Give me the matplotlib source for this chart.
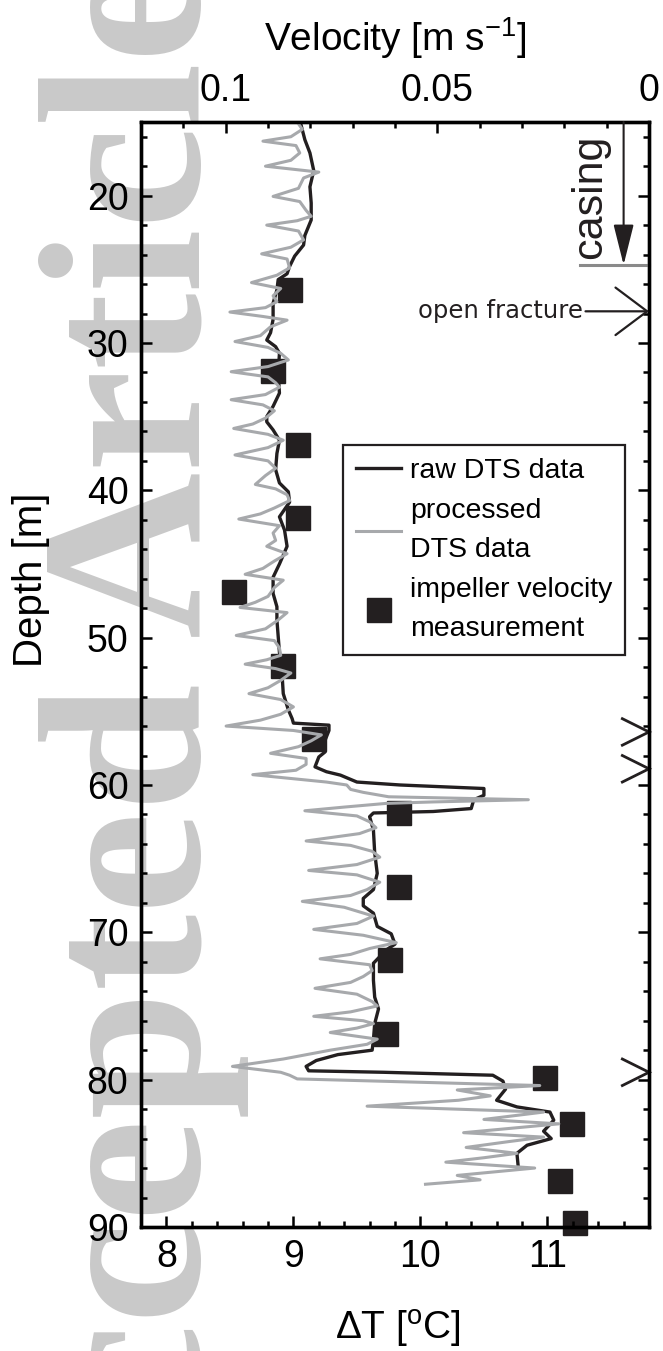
import matplotlib
matplotlib.use("Agg")
import matplotlib.pyplot as plt
from matplotlib.ticker import MultipleLocator

plt.rcParams['font.family'] = ['Liberation Sans', 'DejaVu Sans']
plt.rcParams['mathtext.fontset'] = 'custom'
plt.rcParams['mathtext.rm'] = 'Liberation Sans'
plt.rcParams['mathtext.it'] = 'Liberation Sans:italic'

# raw DTS data (depth [m], dT [C])
raw_depth = [15.0, 15.2, 16.2, 17.1, 18.3, 19.4, 20.5, 21.65, 22.7, 23.35, 24.1, 24.8,
             25.3, 25.7, 26.4, 27.3, 28.4, 29.3, 29.8, 30.25, 30.7, 32.06, 33.4, 34.3,
             35.0, 35.35, 35.9, 36.6, 37.5, 38.6, 39.5, 40.1, 40.8, 41.8, 42.7, 43.8,
             45.0, 45.9, 47.0, 47.9, 48.8, 49.9, 51.0, 52.4, 53.8, 54.9, 55.5, 55.8,
             55.94, 56.3, 56.95, 57.75, 58.1, 58.77, 59.1, 59.33, 59.8, 60.0, 60.24, 60.7,
             61.0, 61.6, 61.8, 61.9, 62.15, 63.06, 64.6, 66.0, 67.1, 67.7, 68.2, 68.7,
             69.6, 70.1, 70.8, 71.2, 72.1, 73.25, 74.4, 75.2, 76.2, 77.3, 78.0, 78.3,
             78.7, 79.1, 79.4, 79.5, 79.7, 80.1, 80.65, 81.4, 81.85, 82.2, 82.75, 83.5,
             84.0, 84.45, 85.0, 85.9]
raw_dT = [9.05, 9.06, 9.09, 9.13, 9.16, 9.13, 9.14, 9.14, 9.09, 9.08, 9.01, 8.97,
          8.95, 8.88, 8.87, 8.84, 8.84, 8.82, 8.79, 8.86, 8.89, 8.88, 8.89, 8.84,
          8.79, 8.79, 8.84, 8.89, 8.87, 8.86, 8.89, 8.96, 8.97, 8.89, 8.93, 8.95,
          8.89, 8.84, 8.84, 8.87, 8.87, 8.88, 8.89, 8.91, 8.92, 8.96, 8.99, 9.0,
          9.28, 9.28, 9.25, 9.25, 9.2, 9.17, 9.26, 9.37, 9.5, 9.84, 10.5, 10.5,
          10.42, 10.4, 10.1, 9.63, 9.6, 9.63, 9.64, 9.66, 9.63, 9.55, 9.55, 9.63,
          9.66, 9.77, 9.8, 9.73, 9.63, 9.63, 9.64, 9.67, 9.64, 9.63, 9.62, 9.35,
          9.18, 9.1, 9.12, 9.71, 10.57, 10.65, 10.67, 10.6, 10.76, 11.02, 11.05, 10.97,
          11.03, 10.84, 10.76, 10.77]

# processed DTS data (depth [m], dT [C])
proc_depth = [15.0, 15.5, 16.0, 16.3, 16.6, 17.1, 17.6, 18.0, 18.4, 18.8, 19.5, 20.05,
              20.4, 21.0, 21.4, 21.7, 22.0, 22.4, 23.0, 23.5, 23.95, 24.3, 24.9, 25.4,
              25.9, 26.3, 26.8, 27.2, 27.6, 27.9, 28.2, 28.45, 28.9, 29.5, 29.9, 30.3,
              30.7, 31.15, 31.6, 31.95, 32.3, 32.7, 33.0, 33.5, 33.85, 34.2, 34.6, 35.1,
              35.5, 35.8, 36.2, 36.6, 37.1, 37.6, 38.0, 38.5, 39.0, 39.6, 39.9, 40.3,
              40.7, 41.2, 41.6, 41.95, 42.4, 42.9, 43.4, 43.8, 44.3, 44.8, 45.3, 45.7,
              46.1, 46.6, 47.2, 47.6, 47.95, 48.3, 48.8, 49.4, 49.85, 50.2, 50.7, 51.2,
              51.5, 51.8, 52.1, 52.4, 52.9, 53.4, 53.8, 54.2, 54.7, 55.2, 55.6, 56.0,
              56.3, 56.6, 57.0, 57.4, 57.85, 58.2, 58.6, 59.0, 59.3, 59.8, 60.0, 60.3,
              60.5, 60.8, 60.9, 61.0, 61.15, 61.25, 61.5, 61.75, 62.1, 62.5, 62.9, 63.3,
              63.8, 64.1, 64.5, 64.9, 65.4, 65.8, 66.1, 66.6, 67.1, 67.5, 67.9, 68.3,
              68.9, 69.4, 69.8, 70.2, 70.7, 71.1, 71.5, 71.8, 72.2, 72.6, 73.0, 73.4,
              73.8, 74.2, 74.7, 75.0, 75.4, 75.7, 76.0, 76.2, 76.5, 76.8, 77.25, 77.6,
              78.0, 78.6, 79.1, 79.5, 79.7, 79.95, 80.4, 80.7, 81.1, 81.4, 81.8, 82.2,
              82.7, 83.0, 83.6, 83.9, 84.2, 84.6, 85.0, 85.3, 85.6, 86.0, 86.5, 86.8,
              87.1]
proc_dT = [9.03, 9.07, 8.98, 8.76, 9.02, 9.05, 8.98, 8.78, 9.2, 9.08, 9.04, 8.84,
           9.05, 9.1, 9.14, 9.03, 8.79, 9.04, 9.08, 8.98, 8.75, 8.95, 8.97, 8.87,
           8.67, 8.9, 8.84, 8.87, 8.78, 8.5, 8.76, 8.95, 8.82, 8.74, 8.54, 8.8,
           8.9, 8.96, 8.8, 8.51, 8.8, 8.86, 8.89, 8.78, 8.51, 8.76, 8.85, 8.78,
           8.68, 8.53, 8.8, 8.92, 8.8, 8.54, 8.8, 8.86, 8.78, 8.7, 8.86, 8.95,
           8.97, 8.85, 8.74, 8.57, 8.89, 8.84, 8.86, 8.79, 8.95, 8.85, 8.76, 8.62,
           8.92, 8.85, 8.8, 8.7, 8.58, 8.95, 8.88, 8.78, 8.55, 8.85, 8.89, 8.9,
           8.79, 8.62, 8.86, 8.98, 8.9, 8.8, 8.65, 8.9, 9.0, 8.9, 8.74, 8.47,
           9.0, 9.22, 9.14, 9.04, 8.82, 9.1, 9.1, 9.02, 8.68, 9.26, 9.42, 9.45,
           9.55, 9.75, 10.3, 10.85, 10.1, 9.73, 9.4, 9.09, 9.5, 9.6, 9.65, 9.52,
           9.1, 9.45, 9.62, 9.68, 9.5, 9.12, 9.5, 9.68, 9.58, 9.45, 9.07, 9.4,
           9.63, 9.5, 9.16, 9.55, 9.81, 9.6, 9.45, 9.21, 9.6, 9.62, 9.55, 9.45,
           9.17, 9.5, 9.62, 9.66, 9.45, 9.16, 9.55, 9.63, 9.5, 9.29, 9.66, 9.58,
           9.29, 8.92, 8.52, 8.9, 8.97, 9.03, 10.94, 10.29, 10.55, 10.3, 9.58, 10.97,
           10.5, 11.09, 10.34, 10.97, 10.7, 10.36, 10.76, 10.5, 10.2, 10.9, 10.29, 10.47,
           10.04]

# impeller velocity measurements (depth [m], velocity [m/s])
imp_depth = [26.4, 31.9, 36.9, 41.9, 46.9, 51.9, 56.9, 61.9, 66.9, 71.9, 76.9,
             79.9, 83.0, 86.9, 89.7]
imp_vel = [0.0849, 0.0888, 0.0828, 0.0828, 0.0981, 0.0864, 0.0792, 0.0591, 0.0591,
           0.0612, 0.0621, 0.0246, 0.0183, 0.021, 0.0174]

# inflow markers on the right axis
inflow_depth = [56.4, 58.9, 79.5]
casing_depth = 24.7
fracture_depth = 27.85

BLACK = '#231f20'
GREY = '#a7a9ac'

fig = plt.figure(figsize=(6.63, 13.51), dpi=100)

# watermark
fig.text(200 / 663, 1 + 40 / 1351, 'Accepted Article', rotation=90, rotation_mode='anchor',
         ha='right', va='baseline', fontsize=166, family='Liberation Serif',
         fontweight='bold', color='#c9c9c9', zorder=-1)

ax = fig.add_axes([0.2127, 0.0918, 0.7662, 0.8179])
ax2 = ax.twiny()
ax.set_zorder(2)
ax2.set_zorder(1)
ax.patch.set_visible(False)

sq, = ax2.plot(imp_vel, imp_depth, 's', color=BLACK, ms=17, clip_on=False)
raw, = ax.plot(raw_dT, raw_depth, color=BLACK, lw=2.4)
proc, = ax.plot(proc_dT, proc_depth, color=GREY, lw=2.2)

ax.set_xlim(7.8, 11.8)
ax.set_ylim(90, 15)
ax2.set_xlim(0.12, 0)

ax.set_xticks([8, 9, 10, 11])
ax.xaxis.set_minor_locator(MultipleLocator(0.2))
ax.set_yticks([20, 30, 40, 50, 60, 70, 80, 90])
ax.yaxis.set_minor_locator(MultipleLocator(2))
ax2.set_xticks([0.1, 0.05, 0])
ax2.set_xticklabels(['0.1', '0.05', '0'])
ax2.xaxis.set_minor_locator(MultipleLocator(0.01))

for a in (ax, ax2):
    for s in a.spines.values():
        s.set_linewidth(2.4)
ax.tick_params(axis='x', which='both', direction='in', bottom=True, top=False,
               labelsize=27, pad=9)
ax.tick_params(axis='y', which='both', direction='in', left=True, right=True,
               labelsize=27, pad=9)
ax2.tick_params(axis='x', which='both', direction='in', labelsize=27, pad=9)
for a in (ax, ax2):
    a.tick_params(which='major', length=7.7, width=1.8)
    a.tick_params(which='minor', length=4.3, width=1.8)

ax.set_xlabel(r'$\Delta$T [$^{\mathrm{o}}$C]', fontsize=28)
ax.xaxis.set_label_coords(0.506, -0.0733)
ax2.set_xlabel(r'Velocity [m s$^{\mathrm{-1}}$]', fontsize=28)
ax2.xaxis.set_label_coords(0.5, 1.0643)
ax.set_ylabel('Depth [m]', fontsize=29)
ax.yaxis.set_label_coords(-0.179, 0.5855)

# casing
ax.plot([11.26, 11.8], [casing_depth, casing_depth], color='#8a8a8a', lw=2.2, clip_on=False)
ax.annotate('', xy=(11.6, casing_depth), xytext=(11.6, 15),
            arrowprops=dict(arrowstyle='-|>,head_length=0.6,head_width=0.15',
                            mutation_scale=42, color=BLACK, lw=1.5,
                            shrinkA=0, shrinkB=0))
ax.text(11.34, 20.1, 'casing', rotation=90, ha='center', va='center', fontsize=31,
        color=BLACK)

# open fracture
ax.annotate('', xy=(11.8, fracture_depth), xytext=(11.3, fracture_depth),
            arrowprops=dict(arrowstyle='->,head_length=0.6,head_width=0.45',
                            mutation_scale=38, color=BLACK, lw=1.6,
                            shrinkA=0, shrinkB=0))
ax.text(11.28, fracture_depth, 'open fracture', ha='right', va='center',
        fontsize=17.5, family='DejaVu Sans', color=BLACK)

# inflow chevrons
for d in inflow_depth:
    ax.plot([11.59, 11.8, 11.59], [d - 0.9, d, d + 0.9], color=BLACK, lw=2.0,
            solid_joinstyle='miter', clip_on=False)

leg = ax.legend([raw, proc, sq], ['raw DTS data', 'processed\nDTS data',
                                  'impeller velocity\nmeasurement'],
                loc='upper left', bbox_to_anchor=(343 / 663, 1 - 445 / 1351),
                bbox_transform=fig.transFigure, fontsize=20.5, frameon=True,
                fancybox=False, framealpha=1, edgecolor=BLACK, borderpad=0.45,
                handlelength=1.6, handletextpad=0.3, labelspacing=0.5,
                borderaxespad=0)
leg.get_frame().set_linewidth(1.6)
for t in leg.get_texts():
    t.set_linespacing(1.65)

fig.savefig('out.png', dpi=100)
